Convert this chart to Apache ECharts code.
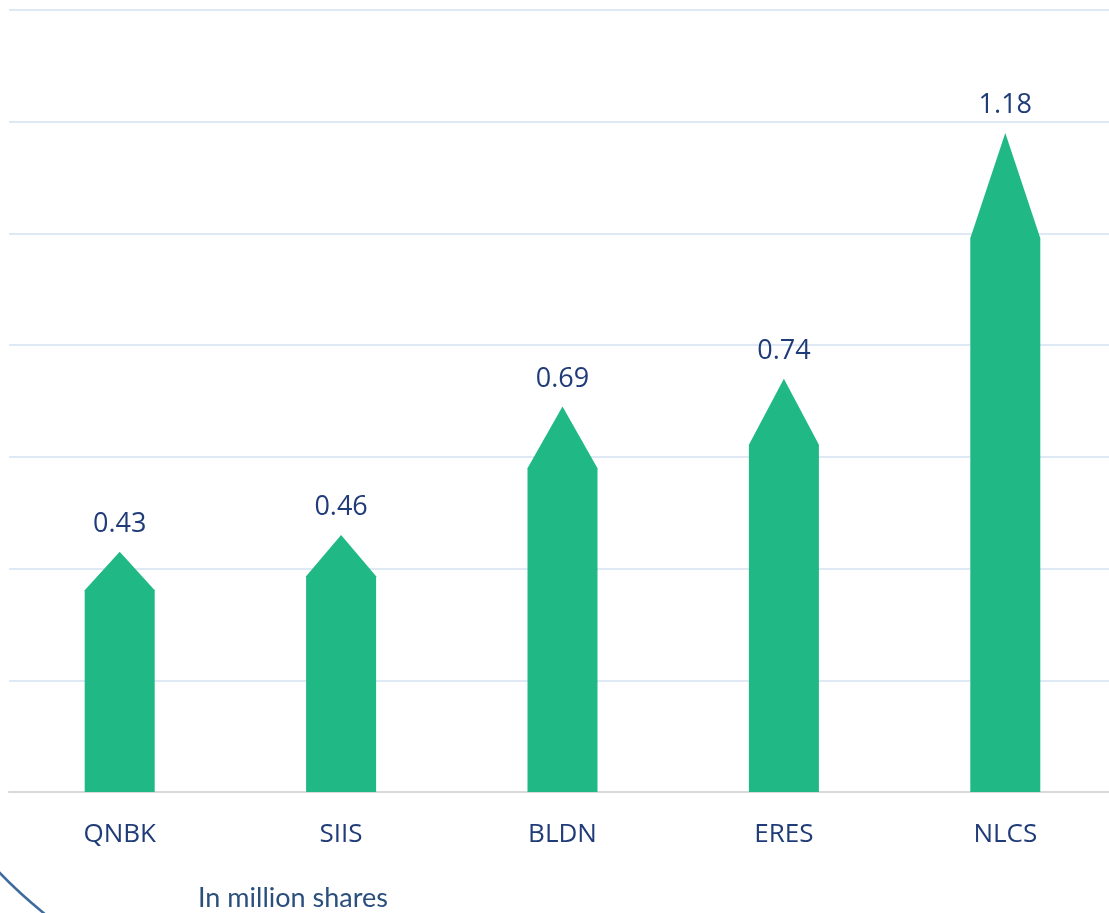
<!DOCTYPE html>
<html>
<head>
<meta charset="utf-8">
<script src="https://cdn.jsdelivr.net/npm/echarts@6/dist/echarts.min.js"></script>
<style>html,body{margin:0;padding:0;background:#fff;overflow:hidden}#c{width:1120px;height:913px}</style>
</head>
<body>
<div id="c"></div>
<script>
const categories = ['QNBK', 'SIIS', 'BLDN', 'ERES', 'NLCS'];
const values = [0.43, 0.46, 0.69, 0.74, 1.18];
const unitNote = 'In million shares';

const chart = echarts.init(document.getElementById('c'));
chart.setOption({
  backgroundColor: '#ffffff',
  animation: false,
  grid: { left: 9, width: 1107, top: 10, bottom: 121 },
  xAxis: {
    type: 'category',
    data: categories,
    axisLine: { lineStyle: { color: '#d9d9d9', width: 2 } },
    axisTick: { show: false },
    axisLabel: { color: '#1f3b78', fontSize: 26, fontFamily: 'Open Sans', margin: 30 }
  },
  yAxis: {
    type: 'value',
    min: 0, max: 1.4, interval: 0.2,
    axisLabel: { show: false },
    axisLine: { show: false },
    axisTick: { show: false },
    splitLine: { lineStyle: { color: '#dfe9f5', width: 2 } }
  },
  series: [{
    type: 'pictorialBar',
    data: values,
    symbol: 'path://M0,16L50,0L100,16L100,100L0,100Z',
    symbolSize: [70, '100%'],
    symbolKeepAspect: false,
    itemStyle: { color: '#20b985' },
    label: {
      show: true, position: 'top', distance: 14,
      color: '#1f3b78', fontSize: 27, fontFamily: 'Open Sans',
      formatter: p => p.value.toFixed(2)
    }
  }],
  graphic: [
    { type: 'text', left: 198, top: 885, style: { text: unitNote, fill: '#2a4f7c', fontSize: 27, fontFamily: 'Lato' } },
    { type: 'bezierCurve', shape: { x1: -2, y1: 871, x2: 46, y2: 915, cpx1: 14, cpy1: 888, cpx2: 30, cpy2: 902 }, style: { stroke: '#3d6b9e', lineWidth: 2.5, fill: 'none' } }
  ]
});
</script>
</body>
</html>
